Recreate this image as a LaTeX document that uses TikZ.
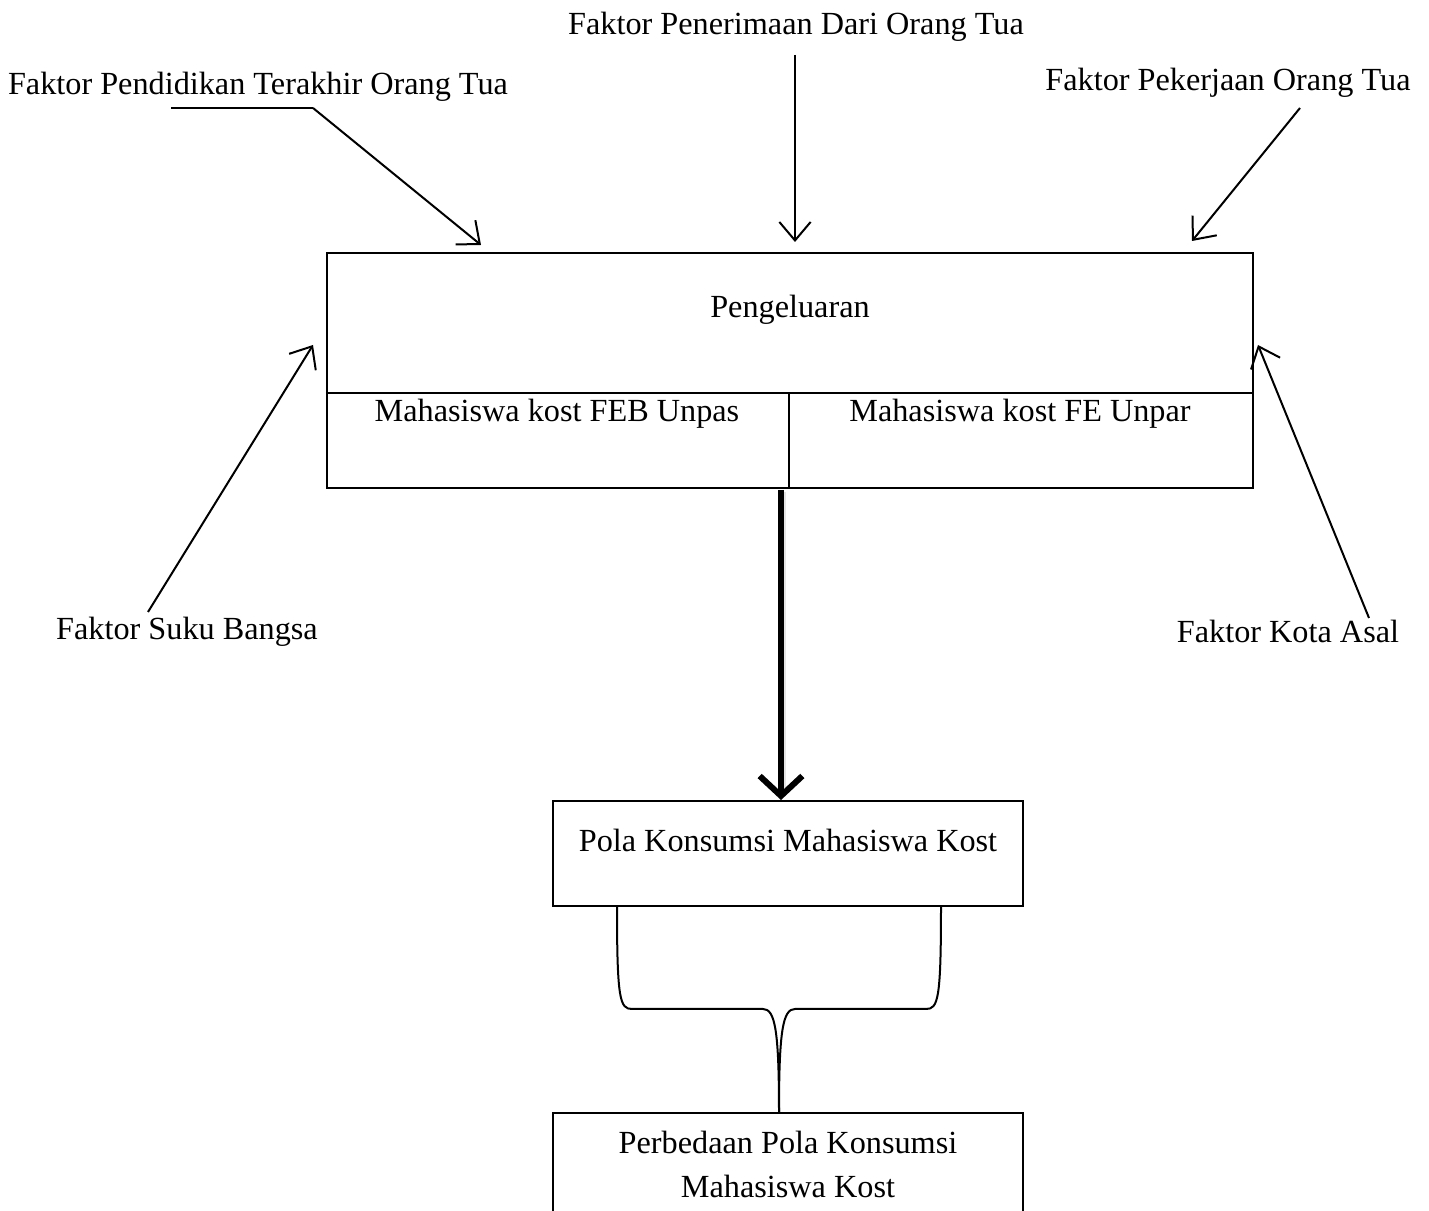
\documentclass[tikz,border=0pt]{standalone}
\usepackage{fontspec}
\setmainfont{Liberation Serif}
\usetikzlibrary{arrows, arrows.meta}

\begin{document}
\begin{tikzpicture}[x=0.4pt, y=-0.4pt, line width=0.8pt,
    >={Straight Barb[length=2.6mm, width=4.4mm]},
    label/.style={inner sep=0pt, font=\fontsize{12.9pt}{15pt}\selectfont},
    kotak/.style={draw, inner sep=0pt}]
      \useasboundingbox (0,0) rectangle (1429,1211);

      % Faktor
      \node[label] (didik) at (258,87) {Faktor Pendidikan Terakhir Orang Tua};
      \node[label] (terima) at (796,27) {Faktor Penerimaan Dari Orang Tua};
      \node[label] (kerja) at (1228,83) {Faktor Pekerjaan Orang Tua};
      \node[label] (suku) at (187,632) {Faktor Suku Bangsa};
      \node[label] (kota) at (1288,631) {Faktor Kota Asal};

      % Pengeluaran
      \node[kotak, minimum width=370.4pt, minimum height=94pt] (keluar) at (790,370.5) {};
      \draw (keluar.west |- 0,393) coordinate (bagiL) -- (keluar.east |- 0,393) coordinate (bagiR);
      \draw (789,393) coordinate (bagiT) -- (keluar.south -| bagiT);
      \node[label] (judul) at (790,310) {Pengeluaran};
      \node[label] (unpas) at (557,414) {Mahasiswa kost FEB Unpas};
      \node[label] (unpar) at (1020,414) {Mahasiswa kost FE Unpar};

      % Pola Konsumsi
      \node[kotak, minimum width=188pt, minimum height=42pt] (pola) at (788,853.5) {};
      \node[label] at (pola.center |- 0,840) {Pola Konsumsi Mahasiswa Kost};
      \node[kotak, minimum width=188pt, minimum height=60pt, anchor=north] (beda) at (788,1112) {};
      \node[label, align=center, font=\fontsize{12.9pt}{17.6pt}\selectfont] at (788,1164) {Perbedaan Pola Konsumsi\\Mahasiswa Kost};

      % arrows
      \coordinate (didikA) at (313,108);
      \coordinate (didikB) at (481,245);
      \draw (171,108) -- (didikA);
      \draw[->] (didikA) -- (didikB);
      \coordinate (terimaA) at (795,55);
      \coordinate (terimaB) at (795,242);
      \draw[->] (terimaA) -- (terimaB);
      \coordinate (kerjaA) at (1300,108);
      \coordinate (kerjaB) at (1192,241);
      \draw[->] (kerjaA) -- (kerjaB);
      \coordinate (sukuA) at (148,612);
      \coordinate (sukuB) at (313,345);
      \draw[->] (sukuA) -- (sukuB);
      \coordinate (kotaA) at (1369,618);
      \coordinate (kotaB) at (1258,345);
      \draw[->] (kotaA) -- (kotaB);

      % thick arrow
      \draw[black!10, line width=3.4pt] (782,492) -- (782,794);
      \draw[line width=2.4pt, arrows={-Straight Barb[length=2.8mm, width=6mm]}] (781,490) -- (pola.north -| 781,0);

      % brace
      \draw (pola.south -| 617,0) .. controls (617,1000) and (620,1009) .. (632,1009) -- (763,1009)
            .. controls (775,1009) and (779,1030) .. (beda.north -| 779,0);
      \draw (pola.south -| 941,0) .. controls (941,1000) and (938,1009) .. (926,1009) -- (795,1009)
            .. controls (783,1009) and (779,1030) .. (beda.north -| 779,0);
\end{tikzpicture}
\end{document}
